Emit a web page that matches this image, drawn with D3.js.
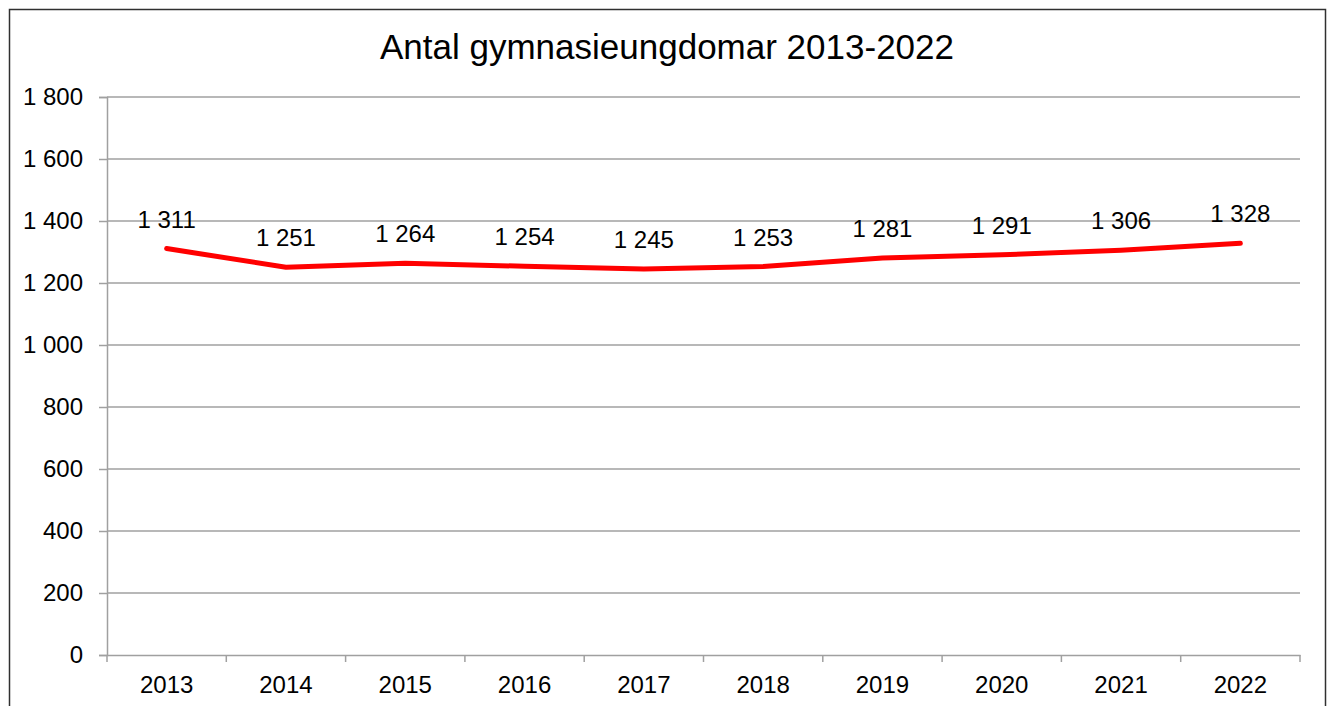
<!DOCTYPE html>
<html>
<head>
<meta charset="utf-8">
<script src="https://cdn.jsdelivr.net/npm/d3@7"></script>
<style>
  body { margin: 0; background: #fff; }
  text { font-family: "Liberation Sans", Arial, sans-serif; fill: #000; }
</style>
</head>
<body>
<div id="chart"></div>
<script>
// data
const years = ["2013", "2014", "2015", "2016", "2017", "2018", "2019", "2020", "2021", "2022"];
const counts = [1311, 1251, 1264, 1254, 1245, 1253, 1281, 1291, 1306, 1328];
const yTicks = [0, 200, 400, 600, 800, 1000, 1200, 1400, 1600, 1800];
const title = "Antal gymnasieungdomar 2013-2022";

const W = 1328, H = 706;
const margin = { top: 97, right: 28, bottom: 51, left: 107 };

const svg = d3.select("#chart").append("svg")
  .attr("width", W)
  .attr("height", H);

// outer frame
svg.append("rect")
  .attr("x", 9.5).attr("y", 9.5)
  .attr("width", 1316).attr("height", 720)
  .attr("fill", "none")
  .attr("stroke", "#303030")
  .attr("stroke-width", 1.5);

const x = d3.scaleBand()
  .domain(years)
  .range([margin.left, W - margin.right])
  .paddingInner(0).paddingOuter(0);

const y = d3.scaleLinear()
  .domain([0, 1800])
  .range([H - margin.bottom, margin.top]);

// swedish thousands with a space
const fmt = v => d3.format(",")(v).replace(/,/g, " ");

// gridlines
svg.append("g")
  .selectAll("line")
  .data(yTicks.filter(d => d > 0))
  .join("line")
  .attr("x1", margin.left).attr("x2", W - margin.right)
  .attr("y1", d => y(d)).attr("y2", d => y(d))
  .attr("stroke", "#a0a0a0").attr("stroke-width", 1.5);

// y axis
const yAxis = svg.append("g")
  .attr("transform", `translate(${margin.left},0)`)
  .call(d3.axisLeft(y).tickValues(yTicks).tickFormat(fmt).tickSize(8).tickPadding(16));
yAxis.selectAll("line").attr("stroke", "#a0a0a0").attr("stroke-width", 1.5);
yAxis.select(".domain").attr("stroke", "#a0a0a0").attr("stroke-width", 1.5);
yAxis.selectAll("text").style("font-size", "24px").attr("fill", "#000");

// x axis with ticks at category boundaries
const xAxis = svg.append("g")
  .attr("transform", `translate(0,${y(0)})`)
  .call(d3.axisBottom(x).tickSize(0).tickPadding(21));
xAxis.select(".domain").attr("stroke", "#a0a0a0").attr("stroke-width", 1.5);
xAxis.selectAll("text").style("font-size", "24px").attr("fill", "#000");
xAxis.selectAll(".bound")
  .data(years.map(d => x(d)).concat([x(years[years.length - 1]) + x.bandwidth()]))
  .join("line")
  .attr("class", "bound")
  .attr("x1", d => d).attr("x2", d => d)
  .attr("y1", 0).attr("y2", 7)
  .attr("stroke", "#a0a0a0").attr("stroke-width", 1.5);

// the line
const line = d3.line()
  .x((d, i) => x(years[i]) + x.bandwidth() / 2)
  .y(d => y(d));

svg.append("path")
  .datum(counts)
  .attr("d", line)
  .attr("fill", "none")
  .attr("stroke", "#ff0000")
  .attr("stroke-width", 5)
  .attr("stroke-linejoin", "round")
  .attr("stroke-linecap", "round");

// value labels
svg.append("g")
  .selectAll("text")
  .data(counts)
  .join("text")
  .attr("x", (d, i) => x(years[i]) + x.bandwidth() / 2)
  .attr("y", d => y(d) - 21)
  .attr("text-anchor", "middle")
  .style("font-size", "24px")
  .text(fmt);

// title
svg.append("text")
  .attr("x", 667)
  .attr("y", 59)
  .attr("text-anchor", "middle")
  .style("font-size", "35px")
  .text(title);
</script>
</body>
</html>
